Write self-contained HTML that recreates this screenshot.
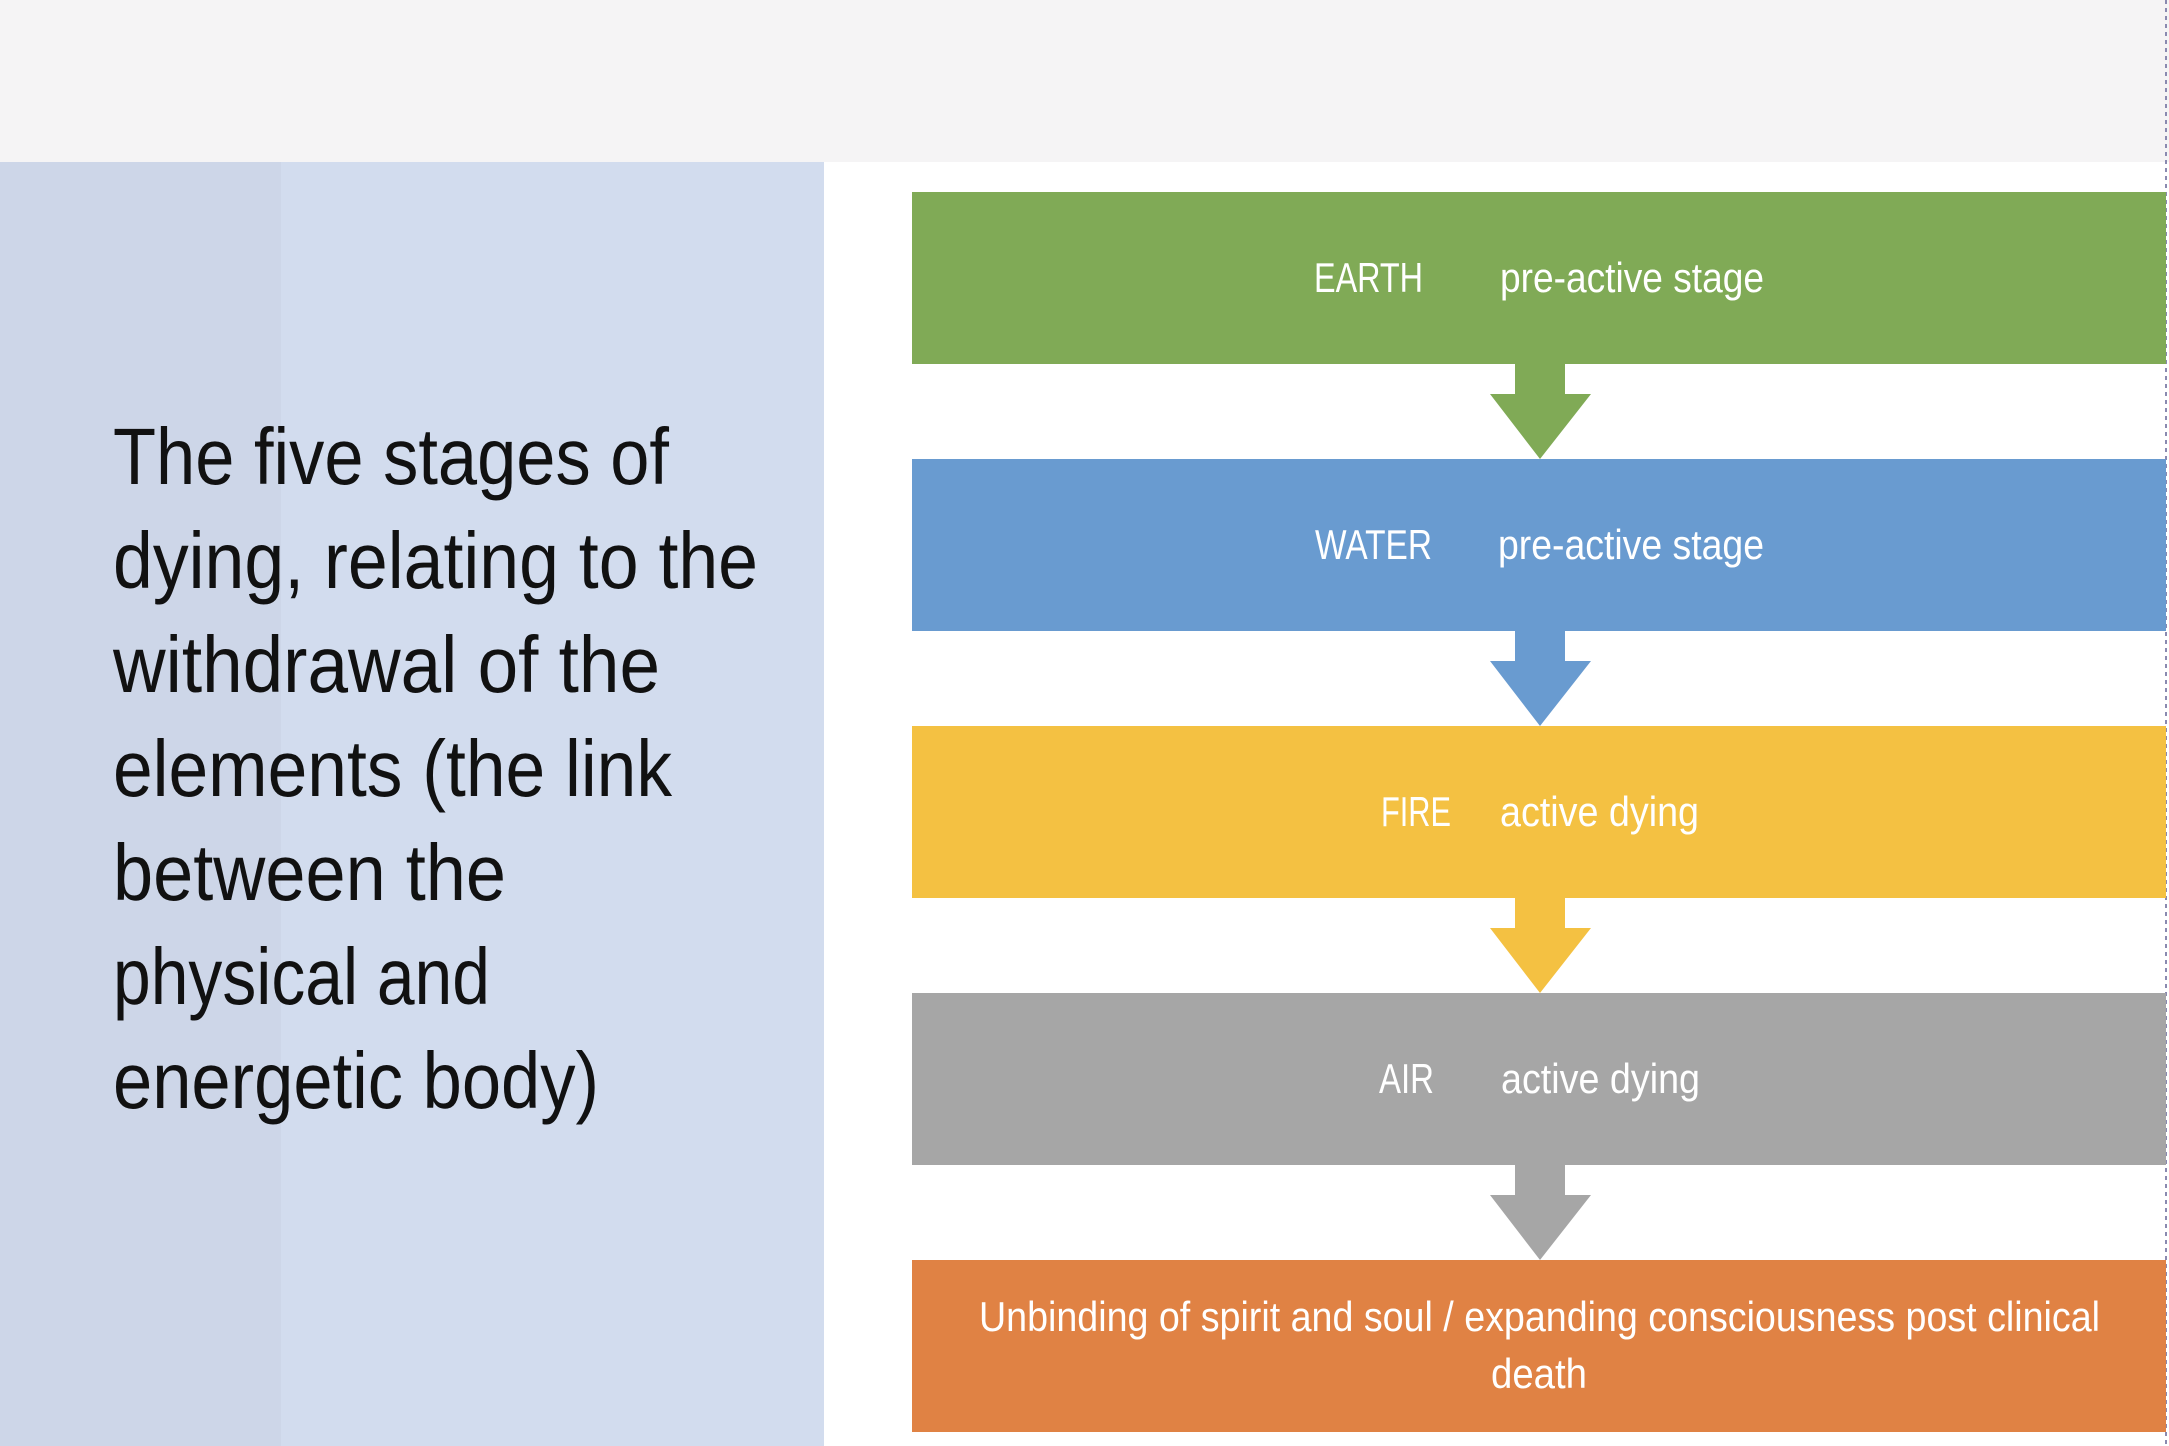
<!DOCTYPE html>
<html><head><meta charset="utf-8"><style>
html,body{margin:0;padding:0;background:#fff;}
svg{display:block}
text{font-family:"Liberation Sans",sans-serif;}
</style></head><body>
<svg width="2169" height="1446" viewBox="0 0 2169 1446" xmlns="http://www.w3.org/2000/svg">
<rect x="0" y="0" width="2169" height="162" fill="#f5f4f5"/>
<rect x="0" y="162" width="824" height="1284" fill="#d2dcee"/>
<rect x="0" y="162" width="281" height="1284" fill="#cdd6e8"/>
<line x1="2166" y1="0" x2="2166" y2="1446" stroke="#8a8ab0" stroke-width="2" stroke-dasharray="4 4"/>
<g font-size="80" fill="#111">
<text x="113" y="484" textLength="556" lengthAdjust="spacingAndGlyphs">The five  stages of</text>
<text x="113" y="588" textLength="645" lengthAdjust="spacingAndGlyphs">dying, relating to the</text>
<text x="113" y="692" textLength="547" lengthAdjust="spacingAndGlyphs">withdrawal of the</text>
<text x="113" y="796" textLength="559" lengthAdjust="spacingAndGlyphs">elements (the link</text>
<text x="113" y="900" textLength="393" lengthAdjust="spacingAndGlyphs">between the</text>
<text x="113" y="1004" textLength="377" lengthAdjust="spacingAndGlyphs">physical and</text>
<text x="113" y="1108" textLength="486" lengthAdjust="spacingAndGlyphs">energetic body)</text>
</g>
<g>
<rect x="912" y="192" width="1254" height="172" fill="#80aa56"/>
<path d="M1515 364 H1565 V394 H1591 L1540 459 L1490 394 H1515 Z" fill="#80aa56"/>
<rect x="912" y="459" width="1254" height="172" fill="#699bd0"/>
<path d="M1515 631 H1565 V661 H1591 L1540 726 L1490 661 H1515 Z" fill="#699bd0"/>
<rect x="912" y="726" width="1254" height="172" fill="#f4c142"/>
<path d="M1515 898 H1565 V928 H1591 L1540 993 L1490 928 H1515 Z" fill="#f4c142"/>
<rect x="912" y="993" width="1254" height="172" fill="#a6a6a6"/>
<path d="M1515 1165 H1565 V1195 H1591 L1540 1260 L1490 1195 H1515 Z" fill="#a6a6a6"/>
<rect x="912" y="1260" width="1254" height="172" fill="#e08244"/>
</g>
<g font-size="42" fill="#fff">
<text x="1314" y="292" textLength="109" lengthAdjust="spacingAndGlyphs">EARTH</text>
<text x="1500" y="292" textLength="264" lengthAdjust="spacingAndGlyphs">pre-active stage</text>
<text x="1315" y="559" textLength="117" lengthAdjust="spacingAndGlyphs">WATER</text>
<text x="1498" y="559" textLength="266" lengthAdjust="spacingAndGlyphs">pre-active stage</text>
<text x="1381" y="826" textLength="70" lengthAdjust="spacingAndGlyphs">FIRE</text>
<text x="1500" y="826" textLength="199" lengthAdjust="spacingAndGlyphs">active dying</text>
<text x="1379" y="1093" textLength="55" lengthAdjust="spacingAndGlyphs">AIR</text>
<text x="1501" y="1093" textLength="199" lengthAdjust="spacingAndGlyphs">active dying</text>
<text x="979" y="1331" textLength="1121" lengthAdjust="spacingAndGlyphs">Unbinding of spirit and soul / expanding consciousness post clinical</text>
<text x="1491" y="1388" textLength="96" lengthAdjust="spacingAndGlyphs">death</text>
</g>
</svg>
</body></html>
